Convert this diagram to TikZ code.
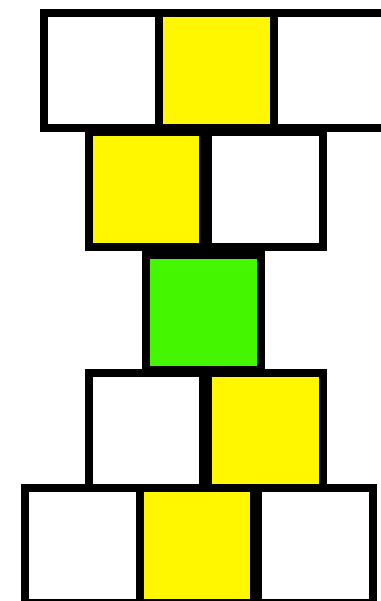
\documentclass[tikz,border=0pt]{standalone}
\usepackage{tikz}
\usepackage{xcolor}
\definecolor{tileyellow}{HTML}{FFF700}
\definecolor{tilegreen}{HTML}{44F700}

\begin{document}
\begin{tikzpicture}[
  x=0.02cm, y=-0.02cm,
  tile/.style={draw=black, line width=0.16cm, minimum size=2.3cm,
               inner sep=0pt, outer sep=0pt, fill=white},
]
  \useasboundingbox (0,0) rectangle (381,601);

  % Row 1 - top
  \node[tile] (tl) at (101.4,70.7) {};
  \node[tile, fill=tileyellow] (tm) at (216.7,70.7) {};
  \node[tile] (tr) at (331.7,70.7) {};

  % Row 2
  \node[tile, fill=tileyellow] (ul) at (146,189.2) {};
  \node[tile] (ur) at (265.9,189.2) {};

  % Row 3 - middle
  \node[tile, fill=tilegreen] (mid) at (203.8,312.7) {};

  % Row 4
  \node[tile] (ll) at (146,430.7) {};
  \node[tile, fill=tileyellow] (lr) at (265.9,430.7) {};

  % Row 5 - bottom
  \node[tile] (bl) at (82.8,545.7) {};
  \node[tile, fill=tileyellow] (bm) at (197,545.7) {};
  \node[tile] (br) at (315.8,545.7) {};
\end{tikzpicture}
\end{document}
